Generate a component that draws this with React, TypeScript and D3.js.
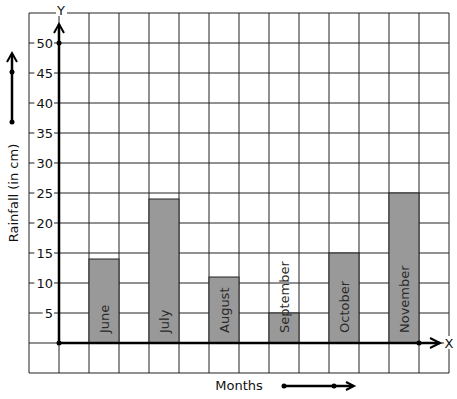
import React from 'react';
import * as d3 from 'd3';

const WIDTH = 457;
const HEIGHT = 399;

const months = ['June', 'July', 'August', 'September', 'October', 'November'];
const rainfall = [14, 24, 11, 5, 15, 25];
const yTicks = [5, 10, 15, 20, 25, 30, 35, 40, 45, 50];

const FONT = 'DejaVu Sans, sans-serif';

// one grid cell = one column, 5 cm per row
const x = d3.scaleLinear().domain([-1, 13]).range([29, 449]);
const y = d3.scaleLinear().domain([-5, 55]).range([373, 13]);

const App: React.FC = () => {
  const cols = d3.range(-1, 14);
  const rows = d3.range(-5, 56, 5);
  const cell = x(1) - x(0);

  return (
    <svg
      width={WIDTH}
      height={HEIGHT}
      style={{ position: 'absolute', left: 0, top: 0, background: '#fff' }}
      fontFamily={FONT}
    >
      {/* grid */}
      {cols.map((c) => (
        <line key={'c' + c} x1={x(c)} x2={x(c)} y1={y(55)} y2={y(-5)} stroke="#222" strokeWidth={1} />
      ))}
      {rows.map((r) => (
        <line key={'r' + r} x1={x(-1)} x2={x(13)} y1={y(r)} y2={y(r)} stroke="#222" strokeWidth={1} />
      ))}

      {/* bars sit on top of the grid */}
      {rainfall.map((v, i) => (
        <rect
          key={months[i]}
          x={x(1 + 2 * i)}
          y={y(v)}
          width={cell}
          height={y(0) - y(v)}
          fill="#999999"
          stroke="#222"
          strokeWidth={1}
        />
      ))}

      {/* month labels */}
      {months.map((m, i) => (
        <text
          key={'m' + m}
          transform={`translate(${x(1.5 + 2 * i)},${y(0) - 10}) rotate(-90)`}
          fontSize={13}
          dy="0.36em"
          fill="#2a2a2a"
        >
          {m}
        </text>
      ))}

      {/* y tick labels */}
      {yTicks.map((t) => {
        const label = String(t);
        const w = label.length * 8.3 + 2;
        return (
          <g key={'yt' + t}>
            <rect x={53 - w} y={y(t) - 6} width={w + 1} height={12} fill="#fff" />
            <text x={53} y={y(t)} dy="0.36em" textAnchor="end" fontSize={13} fill="#111">
              {label}
            </text>
          </g>
        );
      })}

      {/* axes */}
      <line x1={x(0)} x2={x(0)} y1={y(0)} y2={24} stroke="#000" strokeWidth={2.5} />
      <polyline points={`${x(0) - 5},33 ${x(0)},24 ${x(0) + 5},33`} fill="none" stroke="#000" strokeWidth={2} />
      <line x1={x(0)} x2={440} y1={y(0)} y2={y(0)} stroke="#000" strokeWidth={2.5} />
      <polyline points={`430,${y(0) - 5} 440,${y(0)} 430,${y(0) + 5}`} fill="none" stroke="#000" strokeWidth={2} />
      <circle cx={x(0)} cy={y(0)} r={2.5} fill="#000" />
      <circle cx={x(0)} cy={y(50)} r={2.5} fill="#000" />
      <circle cx={x(12)} cy={y(0)} r={2.5} fill="#000" />

      {/* axis letters */}
      <rect x={56} y={4} width={11} height={12} fill="#fff" />
      <text x={61} y={15} textAnchor="middle" fontSize={13} fill="#111">Y</text>
      <rect x={444} y={336} width={11} height={13} fill="#fff" />
      <text x={449} y={y(0)} dy="0.36em" textAnchor="middle" fontSize={13} fill="#111">X</text>

      {/* y axis title with arrow */}
      <text
        transform={`translate(13,${193}) rotate(-90)`}
        textAnchor="middle"
        dy="0.36em"
        fontSize={13}
        fill="#111"
      >
        Rainfall (in cm)
      </text>
      <line x1={12} x2={12} y1={122} y2={54} stroke="#000" strokeWidth={2.5} />
      <polyline points="7,62 12,53 17,62" fill="none" stroke="#000" strokeWidth={2} />
      <circle cx={12} cy={72} r={2.5} fill="#000" />
      <circle cx={12} cy={122} r={2.5} fill="#000" />

      {/* x axis title with arrow */}
      <text x={239} y={390} textAnchor="middle" fontSize={13} fill="#111">Months</text>
      <line x1={284} x2={353} y1={386} y2={386} stroke="#000" strokeWidth={2.5} />
      <polyline points="346,382 354,386 346,390" fill="none" stroke="#000" strokeWidth={2} />
      <circle cx={284} cy={386} r={2.5} fill="#000" />
      <circle cx={334} cy={386} r={2.5} fill="#000" />
    </svg>
  );
};

export default App;
